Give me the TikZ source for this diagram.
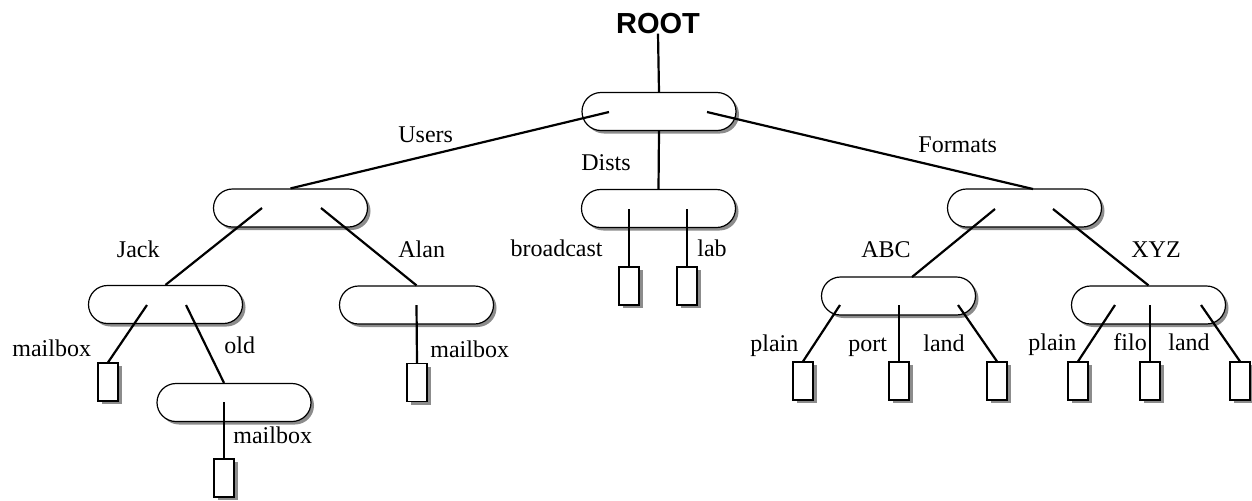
\documentclass[tikz,border=0pt]{standalone}
\usepackage{fontspec}
\setmainfont{Liberation Serif}
\newfontfamily\rootfont{Liberation Sans}
\usepackage{tikz}
\usetikzlibrary{positioning}
\usetikzlibrary{shapes.misc}
\usetikzlibrary{shadows}

\tikzset{
  dirnode/.style={rounded rectangle, draw, line width=.6pt, fill=white,
    minimum width=77pt, minimum height=19pt, inner sep=0pt,
    drop shadow={shadow xshift=1.5pt, shadow yshift=-1.5pt, fill=black!45, opacity=1}},
  filenode/.style={rectangle, draw, line width=.6pt, fill=white,
    minimum width=10pt, minimum height=19pt, inner sep=0pt,
    drop shadow={shadow xshift=1.8pt, shadow yshift=-1.5pt, fill=black!45, opacity=1}},
  link/.style={line width=1.1pt},
  lbl/.style={font=\fontsize{12}{14}\selectfont, inner sep=0pt, anchor=base west},
}

\begin{document}
\begin{tikzpicture}[x=.5pt, y=-.5pt]
\useasboundingbox (0,0) rectangle (1252,500);
% root
  \node (rootlbl) [anchor=base, inner sep=0pt, font=\rootfont\bfseries\fontsize{14.5}{16}\selectfont] at (658,33) {ROOT};
  \node (root) [dirnode] at (659,111.5) {};
% second level
  \node (users) [dirnode] at (290.5,208) {};
  \node (dists) [dirnode] at (658.5,208.5) {};
  \node (formats) [dirnode] at (1024.5,208) {};
% third level
  \node (jack) [dirnode] at (165.5,304.5) {};
  \node (alan) [dirnode] at (416.5,305) {};
  \node (abc) [dirnode] at (898.5,296) {};
  \node (xyz) [dirnode] at (1148.5,305) {};
  \node (old) [dirnode] at (234,402.5) {};
% files
  \node (jackmb) [filenode] at (108,382) {};
  \node (oldmb) [filenode] at (224,478) {};
  \node (alanmb) [filenode] at (417,382.5) {};
  \node (bcast) [filenode] at (629,286) {};
  \node (lab) [filenode] at (687,286) {};
  \node (abcplain) [filenode] at (803,381) {};
  \node (abcport) [filenode] at (899,381) {};
  \node (abcland) [filenode] at (997,381) {};
  \node (xyzplain) [filenode] at (1078,381) {};
  \node (xyzfilo) [filenode] at (1150,381) {};
  \node (xyzland) [filenode] at (1240,381) {};
% inner ends of the links
  \coordinate (rootL) at (609,112);
  \coordinate (rootR) at (707,112);
  \coordinate (formatsin) at (1033,189);
  \coordinate (usersL) at (262,208);
  \coordinate (usersR) at (321,208);
  \coordinate (distsL) at (629,209);
  \coordinate (distsR) at (687,209);
  \coordinate (formatsL) at (995,209);
  \coordinate (formatsR) at (1053,209);
  \coordinate (abcin) at (912,277);
  \coordinate (jackL) at (147,305);
  \coordinate (jackR) at (186,305);
  \coordinate (abcL) at (840,305);
  \coordinate (abcC) at (899,305);
  \coordinate (abcR) at (958,305);
  \coordinate (xyzL) at (1115,305);
  \coordinate (xyzC) at (1150,305);
  \coordinate (xyzR) at (1201,305);
  \coordinate (oldC) at (224,402);
% links
\draw [link] (rootlbl.south) -- (root.north);
\draw [link] (rootL) -- (users.north);
\draw [link] (root.south) -- (dists.north);
\draw [link] (rootR) -- (formatsin);
\draw [link] (usersL) -- (jack.north);
\draw [link] (usersR) -- (alan.north);
\draw [link] (jackL) -- (jackmb.north);
\draw [link] (jackR) -- (old.north -| oldmb.north);
\draw [link] (oldC) -- (oldmb.north);
\draw [link] (alan.center) -- (alanmb.north);
\draw [link] (distsL) -- (bcast.north);
\draw [link] (distsR) -- (lab.north);
\draw [link] (formatsL) -- (abcin);
\draw [link] (formatsR) -- (xyz.north);
\draw [link] (abcL) -- (abcplain.north);
\draw [link] (abcC) -- (abcport.north);
\draw [link] (abcR) -- (abcland.north);
\draw [link] (xyzL) -- (xyzplain.north);
\draw [link] (xyzC) -- (xyzfilo.north);
\draw [link] (xyzR) -- (xyzland.north);
% labels
  \node (tUsers) [lbl] at (398,142) {Users};
  \node (tDists) [lbl] at (581,170) {Dists};
  \node (tFormats) [lbl] at (918,152) {Formats};
  \node (tJack) [lbl, anchor=base east] at (160,257) {Jack};
  \node (tAlan) [lbl] at (398,257) {Alan};
  \node (tBcast) [lbl, anchor=base east] at (603,256) {broadcast};
  \node (tLab) [lbl] at (697,256) {lab};
  \node (tAbc) [lbl] at (861,257) {ABC};
  \node (tXyz) [lbl] at (1131,257) {XYZ};
  \node (tJackmb) [lbl] at (12,356) {mailbox};
  \node (tOld) [lbl] at (224,353) {old};
  \node (tAlanmb) [lbl] at (430,357) {mailbox};
  \node (tOldmb) [lbl] at (233,443) {mailbox};
  \node (tAbcplain) [lbl] at (750,351) {plain};
  \node (tAbcport) [lbl] at (848,351) {port};
  \node (tAbcland) [lbl] at (923,351) {land};
  \node (tXyzplain) [lbl] at (1028,350) {plain};
  \node (tXyzfilo) [lbl] at (1113,350) {filo};
  \node (tXyzland) [lbl] at (1168,350) {land};
\end{tikzpicture}
\end{document}
